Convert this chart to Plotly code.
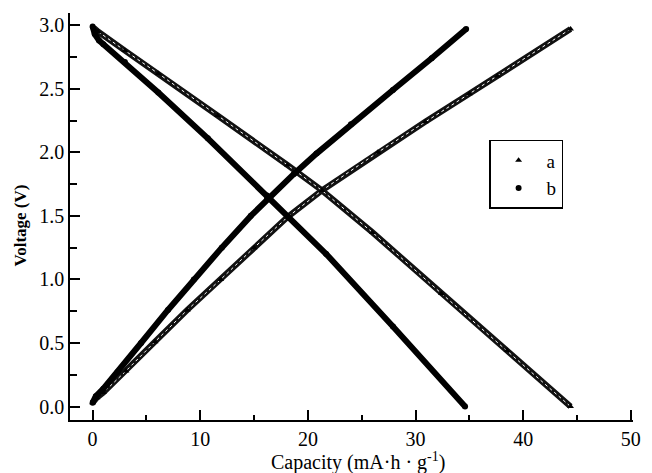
import plotly.graph_objects as go

# ---- data ----
# series a (triangles): charge and discharge branches
a_charge_x = [0.0, 0.4, 1.0, 3.1, 5.8, 8.8, 11.9, 15.0, 18.1, 21.3, 26.5, 30.9, 35.0, 37.6, 44.4]
a_charge_y = [0.03, 0.07, 0.11, 0.28, 0.51, 0.76, 1.00, 1.25, 1.49, 1.70, 2.00, 2.24, 2.46, 2.60, 2.97]
a_dis_x = [0.1, 0.5, 3.0, 6.1, 11.6, 18.1, 21.3, 26.0, 32.4, 38.5, 44.4]
a_dis_y = [2.98, 2.95, 2.80, 2.62, 2.29, 1.90, 1.70, 1.37, 0.89, 0.44, 0.0]

# series b (circles): charge and discharge branches
b_charge_x = [0.0, 0.3, 1.0, 2.3, 4.5, 7.0, 9.4, 12.0, 14.7, 16.2, 18.7, 20.8, 24.0, 27.9, 31.5, 34.7]
b_charge_y = [0.03, 0.08, 0.14, 0.27, 0.50, 0.76, 1.00, 1.25, 1.50, 1.63, 1.83, 1.99, 2.22, 2.49, 2.74, 2.97]
b_dis_x = [0.0, 0.2, 0.6, 1.0, 3.0, 6.1, 10.7, 16.2, 18.2, 21.7, 27.9, 34.6]
b_dis_y = [2.99, 2.93, 2.88, 2.85, 2.71, 2.47, 2.11, 1.66, 1.49, 1.20, 0.63, 0.0]

series_names = ["a", "b"]
x_ticks = [0, 10, 20, 30, 40, 50]
y_ticks = [0.0, 0.5, 1.0, 1.5, 2.0, 2.5, 3.0]

FONT = "Liberation Serif, Times New Roman, serif"

fig = go.Figure()

# series a bands (dense open-triangle look)
for xs, ys in [(a_charge_x, a_charge_y), (a_dis_x, a_dis_y)]:
    fig.add_trace(go.Scatter(x=xs, y=ys, mode="lines", showlegend=False,
                             line=dict(color="#111111", width=6),
                             hoverinfo="skip"))
    fig.add_trace(go.Scatter(x=xs, y=ys, mode="lines", showlegend=False,
                             line=dict(color="white", width=1, dash="dot"),
                             hoverinfo="skip"))

# series b bands (dense filled circles)
for xs, ys in [(b_charge_x, b_charge_y), (b_dis_x, b_dis_y)]:
    fig.add_trace(go.Scatter(x=xs, y=ys, mode="lines", showlegend=False,
                             line=dict(color="black", width=6),
                             hoverinfo="skip"))

# legend-bearing marker traces
fig.add_trace(go.Scatter(x=a_charge_x + a_dis_x, y=a_charge_y + a_dis_y, mode="markers",
                         name=series_names[0],
                         marker=dict(symbol="triangle-up", size=6, color="black")))
fig.add_trace(go.Scatter(x=b_charge_x + b_dis_x, y=b_charge_y + b_dis_y, mode="markers",
                         name=series_names[1],
                         marker=dict(symbol="circle", size=6, color="black")))

axis_common = dict(showline=True, linecolor="black", linewidth=1.5, ticks="inside",
                   tickwidth=1.5, tickcolor="black", showgrid=False, zeroline=False,
                   tickfont=dict(family=FONT, size=20, color="black"), mirror=False)

fig.update_xaxes(range=[-2.1, 50.2], tickvals=x_ticks, ticklen=10,
                 minor=dict(dtick=5, tick0=0, ticks="inside", ticklen=5, tickwidth=1.5,
                            tickcolor="black", showgrid=False),
                 **axis_common)
fig.update_yaxes(range=[-0.106, 3.096], tickvals=y_ticks, tickformat=".1f", ticklen=10,
                 minor=dict(dtick=0.25, tick0=0, ticks="inside", ticklen=7, tickwidth=1.5,
                            tickcolor="black", showgrid=False),
                 **axis_common)

fig.update_layout(
    width=652, height=473,
    margin=dict(l=70, r=11, t=13, b=53),
    paper_bgcolor="white", plot_bgcolor="white",
    font=dict(family=FONT, color="black"),
    legend=dict(x=0.7444, y=0.688, xanchor="left", yanchor="top",
                bordercolor="black", borderwidth=1.5, bgcolor="white",
                font=dict(family=FONT, size=19, color="black"),
                itemwidth=46),
    annotations=[
        dict(text="Capacity (mA·h · g<sup>-1</sup>)", xref="paper", yref="paper",
             x=0.511, y=-0.103, xanchor="center", yanchor="middle", showarrow=False,
             font=dict(family=FONT, size=20, color="black")),
        dict(text="<b>Voltage (V)</b>", xref="paper", yref="paper",
             x=-0.0876, y=0.477, xanchor="center", yanchor="middle", showarrow=False,
             textangle=-90, font=dict(family=FONT, size=17, color="black")),
    ],
)

fig.write_html("out.html")
